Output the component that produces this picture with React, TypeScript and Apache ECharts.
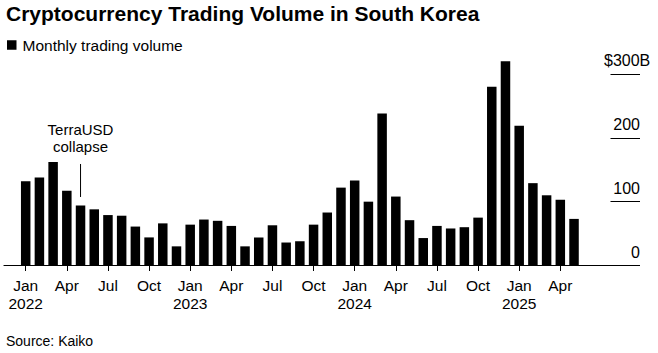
import React, { useEffect, useRef } from "react";
import * as echarts from "echarts";

const months: string[] = [
  "Jan 2022", "Feb 2022", "Mar 2022", "Apr 2022", "May 2022", "Jun 2022",
  "Jul 2022", "Aug 2022", "Sep 2022", "Oct 2022", "Nov 2022", "Dec 2022",
  "Jan 2023", "Feb 2023", "Mar 2023", "Apr 2023", "May 2023", "Jun 2023",
  "Jul 2023", "Aug 2023", "Sep 2023", "Oct 2023", "Nov 2023", "Dec 2023",
  "Jan 2024", "Feb 2024", "Mar 2024", "Apr 2024", "May 2024", "Jun 2024",
  "Jul 2024", "Aug 2024", "Sep 2024", "Oct 2024", "Nov 2024", "Dec 2024",
  "Jan 2025", "Feb 2025", "Mar 2025", "Apr 2025", "May 2025",
];

// Monthly trading volume, $ billions
const volumes: number[] = [
  132, 138, 162, 117, 94, 88, 79, 78, 61, 44, 66, 30,
  64, 72, 70, 62, 30, 44, 63, 36, 38, 64, 83, 122,
  133, 100, 238, 108, 71, 43, 62, 58, 60, 75, 280, 320,
  219, 129, 110, 103, 73,
];

const tickIndices: number[] = [0, 3, 6, 9, 12, 15, 18, 21, 24, 27, 30, 33, 36, 39];
const yTicks: number[] = [0, 100, 200, 300];

const seriesName = "Monthly trading volume";
const annotationIndex = 4; // May 2022
const annotationText = "TerraUSD\ncollapse";
const sourceText = "Source: Kaiko";
const titleText = "Cryptocurrency Trading Volume in South Korea";

const FONT = "Liberation Sans, Arial, Helvetica, sans-serif";

export default function App() {
  const ref = useRef<HTMLDivElement>(null);

  useEffect(() => {
    if (!ref.current) return;
    const chart = echarts.init(ref.current, null, { renderer: "svg" });

    const option: any = {
      animation: false,
      backgroundColor: "#ffffff",
      textStyle: { fontFamily: FONT, color: "#000" },
      title: {
        text: titleText,
        left: 6,
        top: 3,
        padding: 0,
        textStyle: { fontFamily: FONT, fontSize: 21, fontWeight: "bold", color: "#000" },
      },
      legend: {
        left: 7,
        top: 37,
        padding: 0,
        icon: "rect",
        itemWidth: 9.5,
        itemHeight: 9.5,
        itemGap: 10,
        textStyle: { fontFamily: FONT, fontSize: 15.5, color: "#000", padding: [0, 0, 0, 1] },
        data: [seriesName],
      },
      grid: [
        { left: 4, right: 19, top: 74, bottom: 87.5, containLabel: false },
        { left: 610.5, right: 18, top: 74, bottom: 87.5, containLabel: false },
      ],
      xAxis: [
        {
          type: "value",
          gridIndex: 0,
          min: -1.583,
          max: 44.74,
          splitLine: { show: false },
          axisLine: { show: true, lineStyle: { color: "#000", width: 1.2 } },
          axisTick: {
            show: true,
            length: 5.5,
            lineStyle: { color: "#000", width: 1 },
            customValues: tickIndices,
          },
          axisLabel: {
            show: true,
            customValues: tickIndices,
            margin: 10.5,
            fontFamily: FONT,
            fontSize: 15.5,
            color: "#000",
            lineHeight: 18.5,
            formatter: (v: number) => {
              const m = months[Math.round(v)];
              if (!m) return "";
              const [mon, yr] = m.split(" ");
              return mon === "Jan" ? mon + "\n" + yr : mon;
            },
          },
        },
        {
          type: "value",
          gridIndex: 1,
          show: false,
          min: 0,
          max: 1,
        },
      ],
      yAxis: [
        {
          type: "value",
          gridIndex: 0,
          min: 0,
          max: 300,
          interval: 100,
          show: false,
        },
        {
          type: "value",
          gridIndex: 1,
          position: "right",
          min: 0,
          max: 300,
          interval: 100,
          axisLine: { show: false },
          axisTick: { show: false },
          splitLine: { show: true, lineStyle: { color: "#000", width: 1 } },
          axisLabel: {
            inside: true,
            margin: 0,
            verticalAlign: "bottom",
            padding: [0, 0, 5.5, 0],
            fontFamily: FONT,
            fontSize: 16,
            color: "#000",
            customValues: yTicks,
            formatter: (v: number) => (v === 300 ? "{c|$300B}" : String(v)),
            rich: {
              c: { fontFamily: FONT, fontSize: 16, color: "#000", width: 36, align: "left" },
            },
          },
        },
      ],
      series: [
        {
          name: seriesName,
          type: "bar",
          xAxisIndex: 0,
          yAxisIndex: 0,
          barWidth: 9.5,
          clip: false,
          itemStyle: { color: "#000" },
          data: volumes.map((v, i) => [i, v]),
        },
      ],
    };

    chart.setOption(option);

    const [ax, ay] = chart.convertToPixel({ gridIndex: 0 }, [annotationIndex, volumes[annotationIndex]]) as number[];
    chart.setOption({
      graphic: [
        {
          type: "line",
          shape: { x1: ax, y1: ay - 41.5, x2: ax, y2: ay - 8.5 },
          style: { stroke: "#000", lineWidth: 1 },
        },
        {
          type: "text",
          x: ax,
          y: ay - 50,
          style: {
            text: annotationText,
            fontFamily: FONT,
            fontSize: 15,
            lineHeight: 17.5,
            fill: "#000",
            align: "center",
            verticalAlign: "bottom",
          },
        },
        {
          type: "text",
          left: 6,
          top: 334,
          style: {
            text: sourceText,
            fontFamily: FONT,
            fontSize: 14,
            fill: "#000",
          },
        },
      ],
    });

    return () => chart.dispose();
  }, []);

  return (
    <div
      ref={ref}
      style={{ position: "fixed", left: 0, top: 0, width: 658, height: 353 }}
    />
  );
}
